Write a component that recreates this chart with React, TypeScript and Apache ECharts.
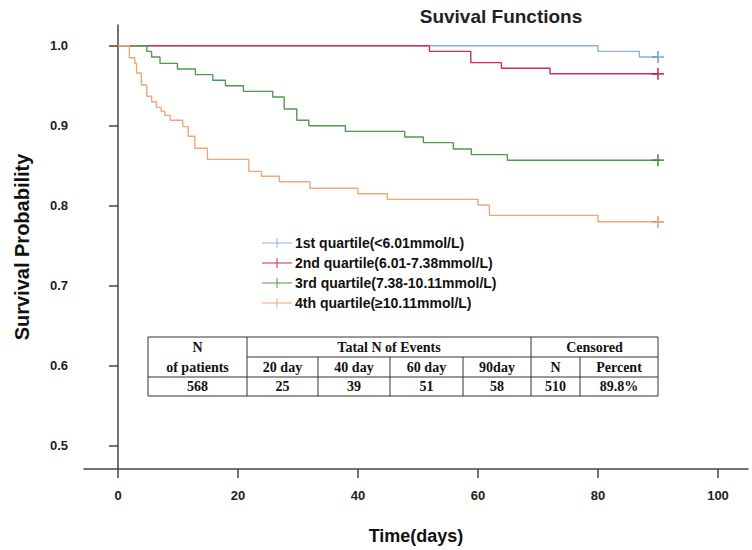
import React, { useEffect, useRef } from "react";
import * as echarts from "echarts";

// ---- data ----
const seriesNames = [
  "1st quartile(<6.01mmol/L)",
  "2nd quartile(6.01-7.38mmol/L)",
  "3rd quartile(7.38-10.11mmol/L)",
  "4th quartile(\u226510.11mmol/L)",
];

const q1Days = [0, 80, 86.9, 90];
const q1Surv = [1, 0.993, 0.986, 0.986];

const q2Days = [0, 51.9, 58.8, 63.9, 72, 90];
const q2Surv = [1, 0.993, 0.979, 0.972, 0.965, 0.965];

const q3Days = [0, 4.8, 5.6, 7.0, 9.9, 12.9, 15.8, 17.9, 20.9, 25.8, 27.7, 29.8, 31.8, 37.9, 47.8, 50.9, 55.9, 58.9, 64.9, 90];
const q3Surv = [1, 0.993, 0.986, 0.978, 0.971, 0.964, 0.957, 0.95, 0.943, 0.936, 0.921, 0.907, 0.9, 0.893, 0.886, 0.879, 0.871, 0.864, 0.857, 0.857];

const q4Days = [0, 1.9, 2.8, 3.1, 3.9, 4.8, 5.6, 6.4, 7.2, 7.8, 8.7, 10.8, 11.7, 12.8, 14.9, 21.8, 23.9, 26.9, 32, 40, 44.9, 60, 61.9, 80, 90];
const q4Surv = [1, 0.985, 0.978, 0.966, 0.951, 0.937, 0.93, 0.923, 0.918, 0.913, 0.907, 0.899, 0.887, 0.872, 0.858, 0.843, 0.837, 0.83, 0.822, 0.815, 0.808, 0.801, 0.788, 0.78, 0.78];

const xTicks = [0, 20, 40, 60, 80, 100];
const yTicks = [0.5, 0.6, 0.7, 0.8, 0.9, 1.0];

const tableHeader1 = ["N", "Tatal N of Events", "Censored"];
const tableHeader2 = ["of patients", "20 day", "40 day", "60 day", "90day", "N", "Percent"];
const tableValues = ["568", "25", "39", "51", "58", "510", "89.8%"];

const lineColors = ["#8cb2da", "#d42a60", "#4e9a4e", "#f2a676"];
const markColors = ["#5a8ec6", "#c40d3c", "#2e7d32", "#e48c52"];

const CROSS = "path://M4.3,0h1.4v10h-1.4zM0,4.3h10v1.4h-10z";
const LEGEND_ICON = "path://M0,4.5h30v1h-30zM14.5,0h1v10h-1z";

export default function App() {
  const ref = useRef<HTMLDivElement>(null);

  useEffect(() => {
    document.body.style.margin = "0";
    if (!ref.current) return;
    const chart = echarts.init(ref.current, null, { renderer: "svg" });

    const allDays = [q1Days, q2Days, q3Days, q4Days];
    const allSurv = [q1Surv, q2Surv, q3Surv, q4Surv];

    const lineSeries = seriesNames.map((name, i) => ({
      name,
      type: "line",
      step: "end",
      symbol: "none",
      silent: true,
      data: allDays[i].map((d, k) => [d, allSurv[i][k]]),
      lineStyle: { color: lineColors[i], width: 1.4 },
      itemStyle: { color: lineColors[i] },
      z: 2 + i,
    }));

    const censorSeries = seriesNames.map((name, i) => {
      const n = allDays[i].length - 1;
      return {
        name: name + " censored",
        type: "scatter",
        silent: true,
        symbol: CROSS,
        symbolSize: 12,
        data: [[allDays[i][n], allSurv[i][n]]],
        itemStyle: { color: markColors[i] },
        z: 10,
      };
    });

    // table geometry
    const cols = [148, 247, 318, 390, 463, 531, 580, 658];
    const rows = [337, 357, 377, 396];
    const tcol = "#333";
    const tfont = "bold 14px 'Liberation Serif', 'Times New Roman', serif";
    const g: any[] = [];
    const hline = (x1: number, x2: number, y: number) =>
      g.push({ type: "line", silent: true, shape: { x1, y1: y, x2, y2: y }, style: { stroke: tcol, lineWidth: 1 } });
    const vline = (x: number, y1: number, y2: number) =>
      g.push({ type: "line", silent: true, shape: { x1: x, y1, x2: x, y2 }, style: { stroke: tcol, lineWidth: 1 } });
    const txt = (s: string, x: number, y: number) =>
      g.push({ type: "text", silent: true, x, y, style: { text: s, font: tfont, fill: "#111", align: "center", verticalAlign: "middle" } });

    hline(cols[0], cols[7], rows[0]);
    hline(cols[1], cols[7], rows[1]);
    hline(cols[0], cols[7], rows[2]);
    hline(cols[0], cols[7], rows[3]);
    vline(cols[0], rows[0], rows[3]);
    vline(cols[7], rows[0], rows[3]);
    vline(cols[1], rows[0], rows[3]);
    vline(cols[5], rows[0], rows[3]);
    [2, 3, 4, 6].forEach((c) => vline(cols[c], rows[1], rows[3]));

    const mid = (a: number, b: number) => (a + b) / 2;
    txt(tableHeader1[0], mid(cols[0], cols[1]), mid(rows[0], rows[1]));
    txt(tableHeader1[1], mid(cols[1], cols[5]), mid(rows[0], rows[1]));
    txt(tableHeader1[2], mid(cols[5], cols[7]), mid(rows[0], rows[1]));
    for (let c = 0; c < 7; c++) {
      txt(tableHeader2[c], mid(cols[c], cols[c + 1]), mid(rows[1], rows[2]));
      txt(tableValues[c], mid(cols[c], cols[c + 1]), mid(rows[2], rows[3]));
    }

    const axisFont = "'Liberation Sans', Arial, sans-serif";

    chart.setOption({
      animation: false,
      backgroundColor: "#ffffff",
      title: {
        text: "Suvival Functions",
        left: 496,
        top: 2,
        textAlign: "center",
        textStyle: { fontFamily: axisFont, fontWeight: "bold", fontSize: 19, color: "#222" },
      },
      legend: {
        data: seriesNames,
        orient: "vertical",
        left: 262,
        top: 236,
        padding: 0,
        itemWidth: 30,
        itemHeight: 10,
        itemGap: 6,
        icon: LEGEND_ICON,
        selectedMode: false,
        textStyle: { fontFamily: axisFont, fontWeight: "bold", fontSize: 14, color: "#111", padding: [0, 0, 0, -2] },
      },
      grid: { left: 84, right: 4, top: 25, bottom: 81 },
      xAxis: {
        type: "value",
        min: -5.667,
        max: 105,
        name: "Time(days)",
        nameLocation: "middle",
        nameGap: 58,
        nameTextStyle: { fontFamily: axisFont, fontWeight: "bold", fontSize: 18, color: "#111" },
        axisLine: { show: true, lineStyle: { color: "#444", width: 1.5 } },
        axisTick: { show: true, length: 9, customValues: xTicks, lineStyle: { color: "#444", width: 1.5 } },
        axisLabel: {
          customValues: xTicks,
          margin: 20,
          fontFamily: axisFont,
          fontWeight: "bold",
          fontSize: 13,
          color: "#222",
        },
        splitLine: { show: false },
      },
      yAxis: {
        type: "value",
        min: 0.471,
        max: 1.026,
        name: "Survival Probability",
        nameLocation: "middle",
        nameRotate: 90,
        nameGap: 52,
        nameTextStyle: { fontFamily: axisFont, fontWeight: "bold", fontSize: 20, color: "#111" },
        axisLine: { show: true, lineStyle: { color: "#444", width: 1.5 } },
        axisTick: { show: true, length: 9, customValues: yTicks, lineStyle: { color: "#444", width: 1.5 } },
        axisLabel: {
          customValues: yTicks,
          margin: 16,
          fontFamily: axisFont,
          fontWeight: "bold",
          fontSize: 13,
          color: "#222",
          formatter: (v: number) => v.toFixed(1),
        },
        splitLine: { show: false },
      },
      graphic: g,
      series: [...lineSeries, ...censorSeries],
    });

    return () => chart.dispose();
  }, []);

  return <div ref={ref} style={{ width: 752, height: 550 }} />;
}
